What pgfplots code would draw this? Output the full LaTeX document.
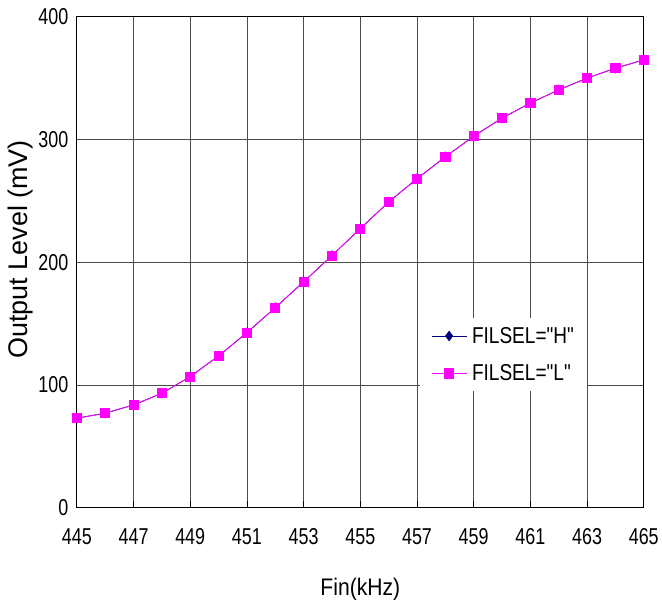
\documentclass[border=0pt]{standalone}
\usepackage{pgfplots}
\pgfplotsset{compat=1.18}
\usepackage{fontspec}
\setmainfont{Liberation Sans}
\newfontfamily\tickfont[FakeStretch=0.78]{Liberation Sans}
\newfontfamily\legfont[FakeStretch=0.83]{Liberation Sans}
\newfontfamily\xlabfont[FakeStretch=0.88]{Liberation Sans}
\definecolor{mag}{RGB}{255,0,255}
\definecolor{nav}{RGB}{0,0,128}

\begin{document}
\begin{tikzpicture}
\begin{axis}[
scale only axis,
width=568pt, height=492pt,
xmin=445, xmax=465,
ymin=0, ymax=400,
xtick={445,447,...,465},
ytick={0,100,...,400},
xmajorgrids=true, ymajorgrids=true,
grid style={black!70, line width=0.8pt},
axis line style={black, line width=0.9pt},
tick style={black, line width=0.8pt},
tick align=inside,
major tick length=7pt,
ytick style={draw=none},
xtick pos=bottom, ytick pos=left,
/pgf/number format/assume math mode=true,
/pgf/number format/set thousands separator={},
tick label style={font=\tickfont\fontsize{23}{23}\selectfont},
xticklabel style={anchor=base, yshift=-37pt},
yticklabel style={anchor=east, xshift=-5pt},
xlabel={Fin(kHz)},
ylabel={Output Level (mV)},
xlabel style={font=\xlabfont\fontsize{24}{24}\selectfont,
  at={([yshift=-88pt]axis description cs:0.5,0)}, anchor=base},
ylabel style={font=\fontsize{27}{27}\selectfont,
  at={([xshift=-56pt]axis description cs:0,0.526)}, anchor=center},
legend style={at={(axis cs:457.11,154.5)}, anchor=north west, draw=none, fill=white,
  font=\legfont\fontsize{23}{23}\selectfont, row sep=16pt,
  inner xsep=11pt, inner ysep=7pt},
legend cell align=left,
legend image code/.code={
  \draw[#1] (0pt,0pt) -- (35pt,0pt);
  \draw[#1, only marks] plot coordinates {(17.5pt,0pt)};
  \path (38pt,0pt);
},
]
\addplot[color=nav, line width=0.8pt, mark=diamond*, mark size=4.7pt] coordinates {
(445,72.9) (446,77.0) (447,83.7) (448,93.2) (449,106.8) (450,123.6) (451,142.6)
(452,163.0) (453,184.0) (454,205.4) (455,227.4) (456,249.0) (457,268.0)
(458,285.8) (459,302.6) (460,317.4) (461,329.6) (462,340.4) (463,349.9)
(464,358.0) (465,364.8)
};
\addlegendentry{FILSEL=\char"22 H\char"22}
\addplot[color=mag, line width=0.8pt, mark=square*, mark size=4.6pt] coordinates {
(445,72.9) (446,77.0) (447,83.7) (448,93.2) (449,106.8) (450,123.6) (451,142.6)
(452,163.0) (453,184.0) (454,205.4) (455,227.4) (456,249.0) (457,268.0)
(458,285.8) (459,302.6) (460,317.4) (461,329.6) (462,340.4) (463,349.9)
(464,358.0) (465,364.8)
};
\addlegendentry{FILSEL=\char"22 L\char"22}
\end{axis}
\path ([xshift=-77pt,yshift=-93.3pt]current axis.south west)
  rectangle ([xshift=17pt,yshift=16.7pt]current axis.north east);
\end{tikzpicture}
\end{document}
